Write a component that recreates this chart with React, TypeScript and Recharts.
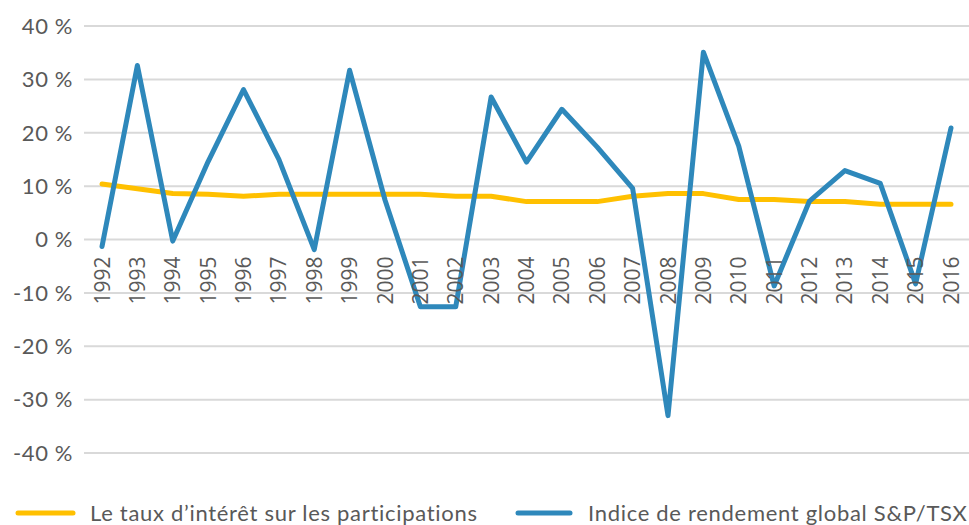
import { LineChart, Line, XAxis, YAxis, CartesianGrid, LabelList } from "recharts";

const years = [
  "1992", "1993", "1994", "1995", "1996", "1997", "1998", "1999", "2000",
  "2001", "2002", "2003", "2004", "2005", "2006", "2007", "2008", "2009",
  "2010", "2011", "2012", "2013", "2014", "2015", "2016",
];

// taux d'intérêt sur les participations (%)
const taux = [
  10.4, 9.5, 8.6, 8.5, 8.1, 8.5, 8.5, 8.5, 8.5, 8.5, 8.1, 8.1, 7.1, 7.1, 7.1,
  8.1, 8.6, 8.6, 7.5, 7.5, 7.1, 7.1, 6.6, 6.6, 6.6,
];

// indice de rendement global S&P/TSX (%)
const tsx = [
  -1.3, 32.6, -0.3, 14.6, 28.1, 15.0, -1.9, 31.7, 7.4, -12.6, -12.6, 26.7,
  14.5, 24.4, 17.3, 9.6, -33.0, 35.1, 17.5, -8.7, 7.2, 12.9, 10.5, -8.3, 20.9,
];

const yTicks = [-40, -30, -20, -10, 0, 10, 20, 30, 40];

const seriesNames = [
  "Le taux d’intérêt sur les participations",
  "Indice de rendement global S&P/TSX",
];
const yellow = "#FFC000";
const blue = "#2E88BB";
const grey = "#595959";

const rows = years.map((year, i) => ({
  year,
  taux: taux[i],
  tsx: tsx[i],
  axis: 0,
}));

const YearLabel = (props: any) => {
  const { x, y, value } = props;
  return (
    <text
      x={x}
      y={y + 17}
      transform={`rotate(-90 ${x} ${y + 17})`}
      textAnchor="end"
      dy="0.36em"
      fill={grey}
      fontSize={21}
      fontFamily="Open Sans"
    >
      {value}
    </text>
  );
};

export default function App() {
  return (
    <div
      style={{
        position: "absolute",
        left: 0,
        top: 0,
        width: 969,
        height: 525,
        overflow: "hidden",
        fontFamily: "Lato",
      }}
    >
      <LineChart
        width={969}
        height={470}
        data={rows}
        margin={{ top: 26, right: 0, bottom: 17, left: 0 }}
      >
        <CartesianGrid vertical={false} stroke="#D9D9D9" strokeWidth={2} />
        <XAxis dataKey="year" hide padding={{ left: 18, right: 18 }} />
        <YAxis
          width={84}
          domain={[-40, 40]}
          ticks={yTicks}
          axisLine={false}
          tickLine={false}
          tickMargin={5}
          tickFormatter={(v) => `${v} %`}
          tick={{ fill: grey, fontSize: 22, fontFamily: "Lato", letterSpacing: 0.6 }}
        />
        <Line
          dataKey="axis"
          stroke="none"
          dot={false}
          activeDot={false}
          isAnimationActive={false}
          legendType="none"
        >
          <LabelList dataKey="year" content={YearLabel} />
        </Line>
        <Line
          dataKey="taux"
          stroke={yellow}
          strokeWidth={5}
          strokeLinejoin="round"
          strokeLinecap="round"
          dot={false}
          isAnimationActive={false}
        />
        <Line
          dataKey="tsx"
          stroke={blue}
          strokeWidth={5}
          strokeLinejoin="round"
          strokeLinecap="round"
          dot={false}
          isAnimationActive={false}
        />
      </LineChart>
      <svg
        width={969}
        height={525}
        style={{ position: "absolute", left: 0, top: 0, pointerEvents: "none" }}
      >
        <line x1={18} x2={73} y1={513} y2={513} stroke={yellow} strokeWidth={5} strokeLinecap="round" />
        <text x={90} y={521} fill={grey} fontSize={22} fontFamily="Lato" letterSpacing={0.7}>
          {seriesNames[0]}
        </text>
        <line x1={518} x2={570} y1={513} y2={513} stroke={blue} strokeWidth={5} strokeLinecap="round" />
        <text x={588} y={521} fill={grey} fontSize={22} fontFamily="Lato" letterSpacing={0.7}>
          {seriesNames[1]}
        </text>
      </svg>
    </div>
  );
}
